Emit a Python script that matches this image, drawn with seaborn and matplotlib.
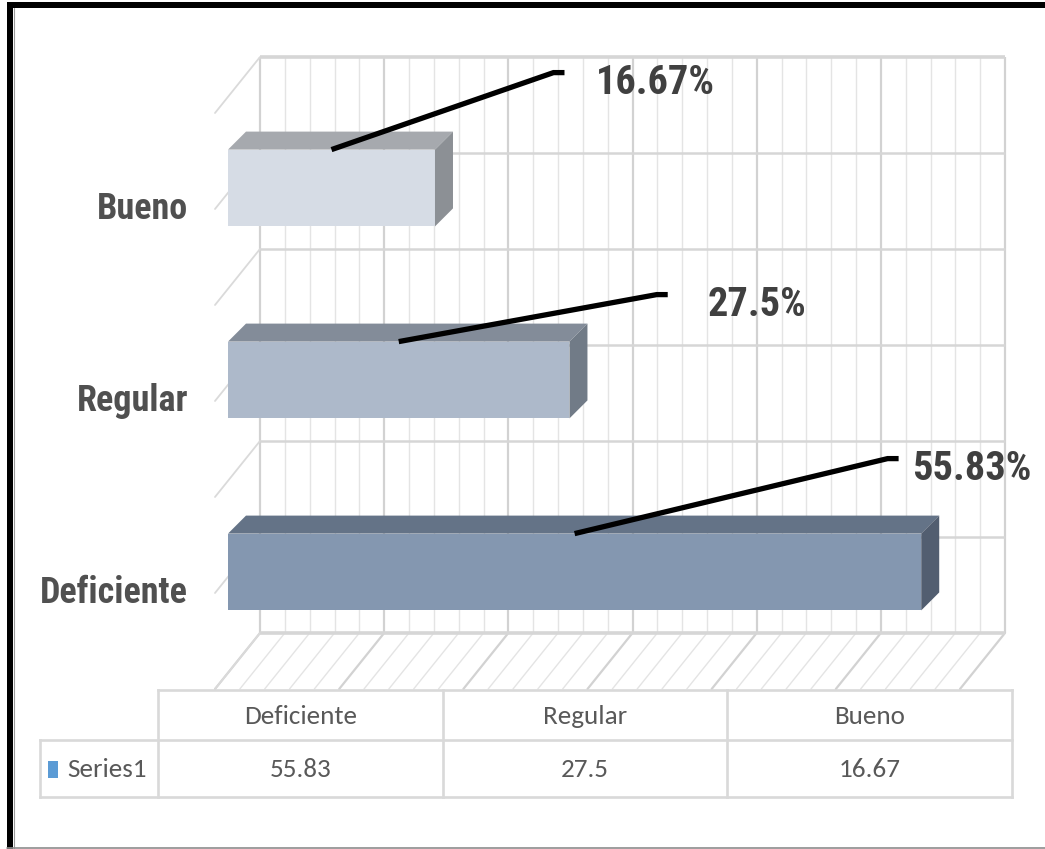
import matplotlib
matplotlib.use("Agg")
import numpy as np
import pandas as pd
import matplotlib.pyplot as plt
from matplotlib import font_manager as fm
from matplotlib.patches import Polygon, Rectangle
import seaborn as sns

# ---- data -------------------------------------------------------------
categories = ["Deficiente", "Regular", "Bueno"]
values = [55.83, 27.5, 16.67]
series_name = "Series1"
axis_max = 60
major_step = 10
minor_step = 2

# ---- styles -----------------------------------------------------------
front_colors = {"Deficiente": "#8497b0", "Regular": "#adb9ca", "Bueno": "#d6dce5"}
top_colors = {"Deficiente": "#647387", "Regular": "#838c99", "Bueno": "#a6a9ae"}
side_colors = {"Deficiente": "#525e70", "Regular": "#717b87", "Bueno": "#8c9095"}
legend_blue = "#5b9bd5"
grid_minor = "#e4e4e4"
grid_major = "#d2d2d2"
table_line = "#d9d9d9"

sns.set_theme(style="white")


def first_font(cands, fallback="DejaVu Sans"):
    for fam in cands:
        try:
            fm.findfont(fm.FontProperties(family=fam), fallback_to_default=False)
        except Exception:
            continue
        return fam
    return fallback


bold_font = first_font(["Liberation Sans Narrow", "Arial Narrow", "Roboto Condensed",
                        "Liberation Sans", "Roboto"])
table_font = first_font(["Carlito", "Calibri", "Liberation Sans Narrow", "Lato", "Open Sans"])
plt.rcParams["font.family"] = [bold_font, "DejaVu Sans"]

W, H = 1045, 849
fig = plt.figure(figsize=(W / 100, H / 100), dpi=100)
fig.patch.set_facecolor("white")

# Main drawing axes spans the whole canvas; value units on x, category slots on y.
ax = fig.add_axes([0, 0, 1, 1])
X0, PPU = 228.0, 745.0 / axis_max      # pixel of value 0 on front plane, pixels per unit
Y0, PPC = 188.0, 192.0                 # pixel centre of first slot, pixels per slot


def dx(px):
    return px / PPU


def dy(py):
    return py / PPC


order = categories[::-1]
df = pd.DataFrame({"categoria": categories, "porcentaje": values})
sns.barplot(data=df, x="porcentaje", y="categoria", order=order, hue="categoria",
            hue_order=order, palette=front_colors, width=0.4, saturation=1,
            orient="h", dodge=False, legend=False, linewidth=0, ax=ax, zorder=3)

ax.set_xlim(dx(0 - X0), dx(W - X0))
ax.set_ylim(dy(H - Y0), dy(0 - Y0))
ax.axis("off")

# ---- 3D walls: back wall, floor and side wall ------------------------
back_x, back_y = dx(32), dy(-35)          # back wall offset from bar front plane
fl_x, fl_y = dx(-45), dy(56)              # depth vector of floor / side wall
top_c, bot_c = -0.5 + back_y, len(categories) - 0.5 + back_y

for v in np.arange(0, axis_max + minor_step / 2, minor_step):
    major = np.isclose(v % major_step, 0)
    col = grid_major if major else grid_minor
    lw = 1.6 if major else 1.0
    xb = v + back_x
    ax.plot([xb, xb], [top_c, bot_c], color=col, lw=lw, zorder=0.5, solid_capstyle="butt")
    ax.plot([xb, xb + fl_x], [bot_c, bot_c + fl_y], color=col, lw=lw, zorder=0.5)

for c in np.arange(-0.5, len(categories) - 0.5 + 0.01, 0.5):
    yb = c + back_y
    edge = np.isclose(c, -0.5) or np.isclose(c, len(categories) - 0.5)
    ax.plot([back_x, axis_max + back_x], [yb, yb], color="#d6d6d6",
            lw=2.6 if edge else 1.8, zorder=0.6, solid_capstyle="butt")
    ax.plot([back_x, back_x + fl_x], [yb, yb + fl_y], color="#dadada", lw=1.3, zorder=0.5)

# ---- bar tops and sides ------------------------------------------------
dep_x, dep_y = dx(18), dy(-18)
bars = {}
for p in ax.patches:
    x, y, w, h = p.get_x(), p.get_y(), p.get_width(), p.get_height()
    if w <= 0:
        continue
    cat = order[int(round(y + h / 2))]
    bars[cat] = (x, y, w, h)
    ax.add_patch(Polygon([(x, y), (x + w, y), (x + w + dep_x, y + dep_y), (x + dep_x, y + dep_y)],
                         closed=True, facecolor=top_colors[cat], edgecolor="none", zorder=3))
    ax.add_patch(Polygon([(x + w, y), (x + w + dep_x, y + dep_y),
                          (x + w + dep_x, y + h + dep_y), (x + w, y + h)],
                         closed=True, facecolor=side_colors[cat], edgecolor="none", zorder=3))

# ---- category labels -------------------------------------------------
for i, cat in enumerate(order):
    ax.text(dx(188 - X0), i + dy(31), cat, ha="right", va="baseline",
            fontsize=26, fontweight="bold", color="#505050", family=[bold_font, "DejaVu Sans"])

# ---- data labels with leader lines ------------------------------------
# (elbow dx, elbow dy, text dx) in pixels, measured from the leader start
label_layout = {"Bueno": (222, -77, 264), "Regular": (258, -47, 309), "Deficiente": (313, -75, 337)}
for cat, val in zip(categories, values):
    x, y, w, h = bars[cat]
    sx, sy = x + w / 2, y
    ex_px, ey_px, tx_px = label_layout[cat]
    ex, ey = sx + dx(ex_px), sy + dy(ey_px)
    ax.plot([sx, ex, ex + dx(11)], [sy, ey, ey], color="black", lw=3.8,
            zorder=6, solid_capstyle="butt", solid_joinstyle="miter")
    ax.text(sx + dx(tx_px), ey + dy(21), f"{val}%", ha="left", va="baseline",
            fontsize=29, fontweight="bold", color="#404040", zorder=7,
            family=[bold_font, "DejaVu Sans"])

# ---- data table (pixel coordinates) ------------------------------------
tab = fig.add_axes([0, 0, 1, 1], facecolor="none")
tab.set_xlim(0, W)
tab.set_ylim(H, 0)
tab.axis("off")

col_edges = [158, 443, 727, 1012]
row_top, row_mid, row_bot, first_left = 690, 740, 797, 40
lk = dict(color=table_line, lw=1.9, solid_capstyle="projecting")
tab.plot([col_edges[0], col_edges[-1]], [row_top, row_top], **lk)
tab.plot([first_left, col_edges[-1]], [row_mid, row_mid], **lk)
tab.plot([first_left, col_edges[-1]], [row_bot, row_bot], **lk)
tab.plot([first_left, first_left], [row_mid, row_bot], **lk)
for xe in col_edges:
    tab.plot([xe, xe], [row_top, row_bot], **lk)

for i, cat in enumerate(categories):
    cx = (col_edges[i] + col_edges[i + 1]) / 2
    tab.text(cx, 724, cat, ha="center", va="baseline", fontsize=19.5,
             color="#595959", family=[table_font, "DejaVu Sans"])
    tab.text(cx, 777, f"{values[i]}", ha="center", va="baseline", fontsize=19.5,
             color="#595959", family=[table_font, "DejaVu Sans"])

tab.add_patch(Rectangle((48, 761), 10, 17, facecolor=legend_blue, edgecolor="none"))
tab.text(67, 777, series_name, ha="left", va="baseline", fontsize=19.5,
         color="#595959", family=[table_font, "DejaVu Sans"])

# ---- frame around the chart -------------------------------------------
tab.add_patch(Rectangle((7, 2), W - 7, 6, facecolor="black", edgecolor="none"))
tab.add_patch(Rectangle((7, 2), 6, H - 2, facecolor="black", edgecolor="none"))
tab.plot([13.5, 13.5], [8, H], color="#9a9a9a", lw=0.8)
tab.plot([7, W], [847.5, 847.5], color="#8c8c8c", lw=1.2)

fig.savefig("out.png", dpi=100, facecolor="white")
